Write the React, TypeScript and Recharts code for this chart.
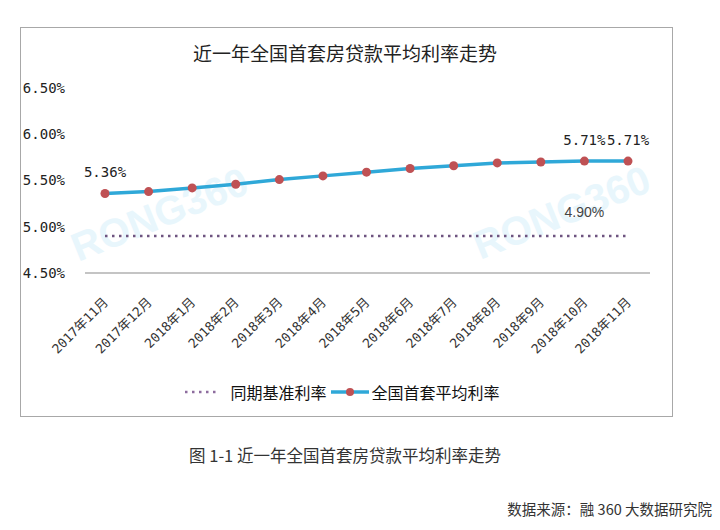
import { LineChart, Line, XAxis, YAxis, LabelList } from 'recharts';

const months = [
  '2017年11月', '2017年12月', '2018年1月', '2018年2月', '2018年3月', '2018年4月', '2018年5月',
  '2018年6月', '2018年7月', '2018年8月', '2018年9月', '2018年10月', '2018年11月',
];
const baseRate = [4.9, 4.9, 4.9, 4.9, 4.9, 4.9, 4.9, 4.9, 4.9, 4.9, 4.9, 4.9, 4.9];
const avgRate = [5.36, 5.38, 5.42, 5.46, 5.51, 5.55, 5.59, 5.63, 5.66, 5.69, 5.7, 5.71, 5.71];
const baseLabels = ['', '', '', '', '', '', '', '', '', '', '', '4.90%', ''];
const avgLabels = ['5.36%', '', '', '', '', '', '', '', '', '', '', '5.71%', '5.71%'];
const yTicks = [4.5, 5, 5.5, 6, 6.5];

const data = months.map((m, i) => ({
  month: m,
  base: baseRate[i],
  avg: avgRate[i],
}));

const BLUE = '#2fa8d8';
const RED = '#bf5154';
const PURPLE = '#6e5480';
const MONO = '"DejaVu Sans Mono", "Noto Sans CJK SC", monospace';
const CJK = '"Noto Sans CJK SC", sans-serif';

function XTick({ x, y, payload }: any) {
  return (
    <g transform={`translate(${x + 4},${y + 30})`}>
      <text
        x={0}
        y={0}
        textAnchor="end"
        transform="rotate(-45)"
        fontSize={13}
        fontFamily={MONO}
        fill="#333"
      >
        {payload.value}
      </text>
    </g>
  );
}

function YTick({ x, y, payload }: any) {
  return (
    <text x={x} y={y} dy="0.35em" textAnchor="end" fontSize={14} fontFamily={MONO} fill="#222">
      {payload.value.toFixed(2) + '%'}
    </text>
  );
}

function AvgLabel({ x, y, index }: any) {
  const t = avgLabels[index];
  if (!t) return null;
  return (
    <text x={x} y={y - 16} textAnchor="middle" fontSize={14} fontFamily={MONO} fill="#222">
      {t}
    </text>
  );
}

function BaseLabel({ x, y, index }: any) {
  const t = baseLabels[index];
  if (!t) return null;
  return (
    <text
      x={x}
      y={y - 19}
      textAnchor="middle"
      fontSize={14}
      fontFamily='"Liberation Sans", Arial, sans-serif'
      fill="#444"
    >
      {t}
    </text>
  );
}

function LegendBox() {
  return (
    <div
      style={{
        display: 'flex',
        alignItems: 'center',
        justifyContent: 'center',
        fontFamily: CJK,
        fontSize: 16,
        color: '#111',
        paddingRight: 36,
      }}
    >
      <svg width={34} height={10} style={{ marginRight: 12 }}>
        <line x1={1} y1={5} x2={33} y2={5} stroke="#8d6c9e" strokeWidth={2.5} strokeDasharray="2.5 4.5" />
      </svg>
      <span>同期基准利率</span>
      <svg width={38} height={10} style={{ marginLeft: 4, marginRight: 3 }}>
        <line x1={0} y1={5} x2={38} y2={5} stroke={BLUE} strokeWidth={3.5} />
        <circle cx={19} cy={5} r={4} fill={RED} />
      </svg>
      <span>全国首套平均利率</span>
    </div>
  );
}

export default function App() {
  return (
    <div
      style={{
        position: 'absolute',
        left: 0,
        top: 0,
        width: 720,
        height: 530,
        background: '#fff',
        overflow: 'hidden',
      }}
    >
      <div
        style={{
          position: 'absolute',
          left: 20,
          top: 27,
          width: 651,
          height: 388,
          border: '1.5px solid #a8a8a8',
        }}
      />
      <svg width={720} height={420} style={{ position: 'absolute', left: 0, top: 0 }}>
        <text
          x={160}
          y={228}
          textAnchor="middle"
          transform="rotate(-22 160 215)"
          fontSize={40}
          fontWeight="bold"
          fontFamily="Arial, sans-serif"
          fill="#e8f6fc"
        >
          RONG360
        </text>
        <text
          x={562}
          y={226}
          textAnchor="middle"
          transform="rotate(-22 562 213)"
          fontSize={40}
          fontWeight="bold"
          fontFamily="Arial, sans-serif"
          fill="#e8f6fc"
        >
          RONG360
        </text>
      </svg>
      <div
        style={{
          position: 'absolute',
          left: 0,
          top: 39,
          width: 690,
          textAlign: 'center',
          fontFamily: CJK,
          fontSize: 19,
          color: '#222',
        }}
      >
        近一年全国首套房贷款平均利率走势
      </div>
      <div style={{ position: 'absolute', left: 0, top: 0 }}>
        <LineChart
          width={720}
          height={420}
          data={data}
          margin={{ top: 88, right: 70, bottom: 67, left: 20 }}
        >
          <XAxis
            dataKey="month"
            interval={0}
            height={80}
            padding={{ left: 20, right: 22 }}
            axisLine={{ stroke: '#8a8a8a', strokeWidth: 1.2 }}
            tickLine={false}
            tickSize={0}
            tickMargin={0}
            tick={<XTick />}
          />
          <YAxis
            width={65}
            domain={[4.5, 6.5]}
            ticks={yTicks}
            axisLine={false}
            tickLine={false}
            tickSize={0}
            tickMargin={20}
            tick={<YTick />}
          />
          <Line
            dataKey="base"
            name="同期基准利率"
            stroke={PURPLE}
            strokeWidth={2.5}
            strokeDasharray="2.5 4.5"
            dot={false}
            activeDot={false}
            isAnimationActive={false}
          >
            <LabelList dataKey="base" content={<BaseLabel />} />
          </Line>
          <Line
            dataKey="avg"
            name="全国首套平均利率"
            stroke={BLUE}
            strokeWidth={3.5}
            dot={{ r: 4.5, fill: RED, stroke: RED, strokeWidth: 0 }}
            activeDot={false}
            isAnimationActive={false}
          >
            <LabelList dataKey="avg" content={<AvgLabel />} />
          </Line>
        </LineChart>
      </div>
      <div style={{ position: 'absolute', left: 0, top: 380, width: 720 }}>
        <LegendBox />
      </div>
      <div
        style={{
          position: 'absolute',
          left: 0,
          top: 443,
          width: 690,
          textAlign: 'center',
          fontFamily: CJK,
          fontSize: 16.5,
          color: '#333',
        }}
      >
        图 1-1 近一年全国首套房贷款平均利率走势
      </div>
      <div
        style={{
          position: 'absolute',
          right: 8,
          top: 498,
          fontFamily: CJK,
          fontSize: 14.5,
          color: '#333',
        }}
      >
        数据来源：融 360 大数据研究院
      </div>
    </div>
  );
}
